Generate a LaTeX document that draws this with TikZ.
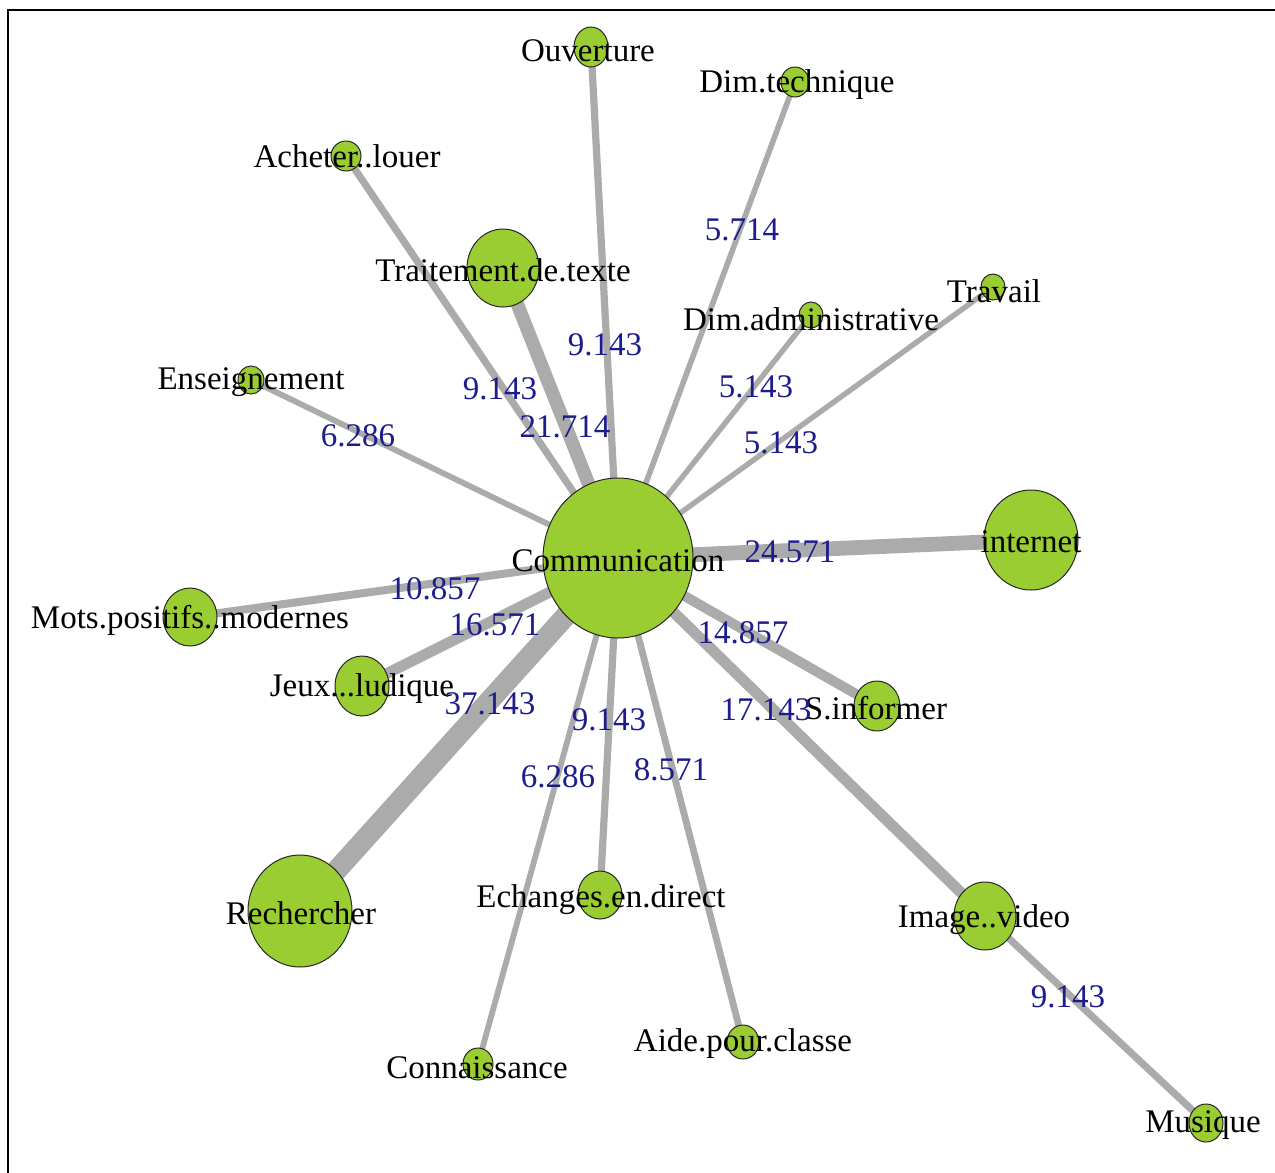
\documentclass[tikz,border=0pt]{standalone}
\usepackage{fontspec}
\setmainfont{Liberation Serif}
\usetikzlibrary{shapes.geometric,backgrounds}
\definecolor{vfill}{HTML}{9ACD32}
\definecolor{egray}{HTML}{ABABAB}
\definecolor{elab}{HTML}{1C1C8C}
\tikzset{
  vtx/.style 2 args={ellipse, draw=black!85, line width=0.5pt, fill=vfill,
    minimum width=#1*0.5pt, minimum height=#2*0.5pt, inner sep=0pt},
  vlab/.style={anchor=base, inner sep=0pt, text=black, font=\fontsize{16.5}{18}\selectfont},
  wlab/.style={anchor=base, inner sep=0pt, text=elab, font=\fontsize{16.5}{18}\selectfont},
  edg/.style={draw=egray, line width=#1 pt},
}
\begin{document}
\begin{tikzpicture}[x=0.5pt, y=-0.5pt]
\useasboundingbox (0,0) rectangle (1275,1173);
\draw[line width=1.3pt, black] (8,1180) -- (8,10) -- (1280,10);

% vertices
\node[vtx={150}{160}] (comm) at (618,558) {};
\node[vtx={34}{40}] (ouv) at (591,47) {};
\node[vtx={28}{30}] (dtec) at (795,82) {};
\node[vtx={30}{30}] (ach) at (346,156) {};
\node[vtx={72}{78}] (trt) at (503,268) {};
\node[vtx={24}{26}] (trav) at (993,287) {};
\node[vtx={24}{26}] (dadm) at (811,315) {};
\node[vtx={26}{28}] (ens) at (251,380) {};
\node[vtx={94}{100}] (int) at (1031,540) {};
\node[vtx={54}{58}] (mots) at (190,617) {};
\node[vtx={54}{60}] (jeux) at (362,686) {};
\node[vtx={46}{50}] (sinf) at (877,706) {};
\node[vtx={104}{112}] (rech) at (300,911) {};
\node[vtx={44}{48}] (ech) at (600,895) {};
\node[vtx={62}{68}] (img) at (985,916) {};
\node[vtx={30}{32}] (conn) at (478,1064) {};
\node[vtx={32}{34}] (aide) at (743,1042) {};
\node[vtx={34}{38}] (mus) at (1206,1123) {};

% edges
\begin{pgfonlayer}{background}
\draw[edg=3.6] (comm.center) -- (ouv.center);
\draw[edg=2.8] (comm.center) -- (dtec.center);
\draw[edg=3.6] (comm.center) -- (ach.center);
\draw[edg=6.7] (comm.center) -- (trt.center);
\draw[edg=2.7] (comm.center) -- (dadm.center);
\draw[edg=2.7] (comm.center) -- (trav.center);
\draw[edg=2.9] (comm.center) -- (ens.center);
\draw[edg=7.4] (comm.center) -- (int.center);
\draw[edg=4.0] (comm.center) -- (mots.center);
\draw[edg=5.4] (comm.center) -- (jeux.center);
\draw[edg=5.0] (comm.center) -- (sinf.center);
\draw[edg=10.4] (comm.center) -- (rech.center);
\draw[edg=3.6] (comm.center) -- (ech.center);
\draw[edg=2.9] (comm.center) -- (conn.center);
\draw[edg=3.4] (comm.center) -- (aide.center);
\draw[edg=5.5] (comm.center) -- (img.center);
\draw[edg=3.6] (img.center) -- (mus.center);
\end{pgfonlayer}

% vertex labels
\node[vlab] (lcomm) at (618,571) {Communication};
\node[vlab] (louv) at (588,61) {Ouverture};
\node[vlab] (ldtec) at (797,92) {Dim.technique};
\node[vlab] (lach) at (347,167) {Acheter..louer};
\node[vlab] (ltrt) at (503,281) {Traitement.de.texte};
\node[vlab] (ltrav) at (994,302) {Travail};
\node[vlab] (ldadm) at (811,330) {Dim.administrative};
\node[vlab] (lens) at (251,389) {Enseignement};
\node[vlab] (lint) at (1031,552) {internet};
\node[vlab] (lmots) at (190,628) {Mots.positifs..modernes};
\node[vlab] (ljeux) at (362,696) {Jeux...ludique};
\node[vlab] (lsinf) at (876,719) {S.informer};
\node[vlab] (lrech) at (301,924) {Rechercher};
\node[vlab] (lech) at (601,907) {Echanges.en.direct};
\node[vlab] (limg) at (984,927) {Image..video};
\node[vlab] (laide) at (743,1051) {Aide.pour.classe};
\node[vlab] (lconn) at (477,1078) {Connaissance};
\node[vlab] (lmus) at (1203,1132) {Musique};

% edge labels
\node[wlab] (w1) at (742,240) {5.714};
\node[wlab] (w2) at (605,355) {9.143};
\node[wlab] (w3) at (500,399) {9.143};
\node[wlab] (w4) at (565,437) {21.714};
\node[wlab] (w5) at (358,446) {6.286};
\node[wlab] (w6) at (756,397) {5.143};
\node[wlab] (w7) at (781,453) {5.143};
\node[wlab] (w8) at (790,562) {24.571};
\node[wlab] (w9) at (435,599) {10.857};
\node[wlab] (w10) at (495,635) {16.571};
\node[wlab] (w11) at (743,643) {14.857};
\node[wlab] (w12) at (490,714) {37.143};
\node[wlab] (w13) at (609,730) {9.143};
\node[wlab] (w14) at (766,720) {17.143};
\node[wlab] (w15) at (558,787) {6.286};
\node[wlab] (w16) at (671,780) {8.571};
\node[wlab] (w17) at (1068,1007) {9.143};
\end{tikzpicture}
\end{document}
